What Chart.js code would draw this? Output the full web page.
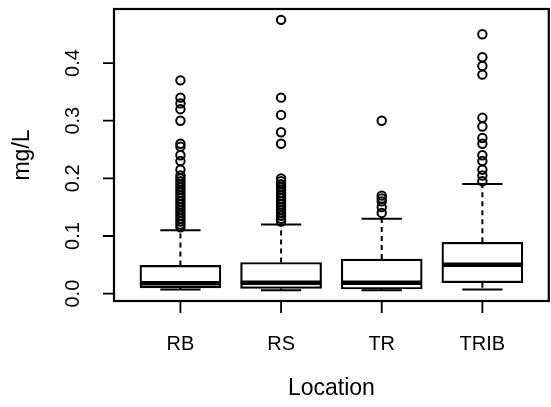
<!DOCTYPE html>
<html>
<head>
<meta charset="utf-8">
<script src="https://cdn.jsdelivr.net/npm/chart.js@4.4.0/dist/chart.umd.min.js"></script>
<style>
  html, body { margin: 0; padding: 0; background: #fff; overflow: hidden; }
  #wrap { width: 555px; height: 407px; }
</style>
</head>
<body>
<div id="wrap"><canvas id="boxChart" width="555" height="407"></canvas></div>
<script>
// Concentration by sampling location (five-number summaries + outliers)
var locations = ['RB', 'RS', 'TR', 'TRIB'];
var lowerWhisker = [0.007, 0.006, 0.006, 0.007];
var lowerQuartile = [0.010, 0.009, 0.008, 0.019];
var medians = [0.018, 0.019, 0.019, 0.050];
var upperQuartile = [0.049, 0.054, 0.060, 0.089];
var upperWhisker = [0.110, 0.120, 0.130, 0.190];

var outliersRB = [0.37, 0.34, 0.33, 0.32, 0.30, 0.26, 0.255, 0.24, 0.23, 0.215, 0.205, 0.20,
    0.195, 0.19, 0.185, 0.18, 0.175, 0.17, 0.165, 0.16, 0.155, 0.15, 0.145, 0.14, 0.135,
    0.13, 0.125, 0.12, 0.115];
var outliersRS = [0.475, 0.34, 0.31, 0.28, 0.26, 0.20, 0.195, 0.19, 0.185, 0.18, 0.175,
    0.17, 0.165, 0.16, 0.155, 0.15, 0.145, 0.14, 0.135, 0.13, 0.125];
var outliersTR = [0.30, 0.17, 0.165, 0.16, 0.15, 0.14];
var outliersTRIB = [0.45, 0.41, 0.395, 0.38, 0.305, 0.29, 0.27, 0.26, 0.24, 0.23, 0.215,
    0.205, 0.195];
var outlierGroups = [outliersRB, outliersRS, outliersTR, outliersTRIB];

var yTicks = [0.0, 0.1, 0.2, 0.3, 0.4];
var yTickLabels = ['0.0', '0.1', '0.2', '0.3', '0.4'];
var xTitle = 'Location';
var yTitle = 'mg/L';

var FONT = '20px "Liberation Sans", Arial, sans-serif';
var TITLE_FONT = '23px "Liberation Sans", Arial, sans-serif';

// boxes as floating bars [Q1, Q3]
var boxData = locations.map(function(name, i) {
    return { x: i + 1, y: [lowerQuartile[i], upperQuartile[i]] };
});

var outlierData = [];
outlierGroups.forEach(function(group, i) {
    group.forEach(function(v) { outlierData.push({ x: i + 1, y: v }); });
});

// whiskers, staples, medians, frame and axes drawn on top of the datasets
var boxplotExtras = {
    id: 'boxplotExtras',
    afterDatasetsDraw: function(chart) {
        var ctx = chart.ctx;
        var xs = chart.scales.x;
        var ys = chart.scales.y;
        var area = chart.chartArea;
        var unit = xs.getPixelForValue(2) - xs.getPixelForValue(1);
        var boxHalf = unit * 0.4;
        var stapleHalf = unit * 0.2;

        ctx.save();
        ctx.strokeStyle = '#000';
        ctx.lineCap = 'butt';

        locations.forEach(function(name, i) {
            var cx = xs.getPixelForValue(i + 1);

            // dashed whiskers
            ctx.lineWidth = 2;
            ctx.setLineDash([5, 4]);
            ctx.beginPath();
            ctx.moveTo(cx, ys.getPixelForValue(upperQuartile[i]));
            ctx.lineTo(cx, ys.getPixelForValue(upperWhisker[i]));
            ctx.moveTo(cx, ys.getPixelForValue(lowerQuartile[i]));
            ctx.lineTo(cx, ys.getPixelForValue(lowerWhisker[i]));
            ctx.stroke();
            ctx.setLineDash([]);

            // staples
            ctx.beginPath();
            var yu = ys.getPixelForValue(upperWhisker[i]);
            var yl = ys.getPixelForValue(lowerWhisker[i]);
            ctx.moveTo(cx - stapleHalf, yu);
            ctx.lineTo(cx + stapleHalf, yu);
            ctx.moveTo(cx - stapleHalf, yl);
            ctx.lineTo(cx + stapleHalf, yl);
            ctx.stroke();

            // median
            ctx.lineWidth = 4.5;
            ctx.beginPath();
            var ym = ys.getPixelForValue(medians[i]);
            ctx.moveTo(cx - boxHalf, ym);
            ctx.lineTo(cx + boxHalf, ym);
            ctx.stroke();
        });

        // plot frame
        ctx.lineWidth = 2.2;
        ctx.strokeRect(area.left, area.top, area.right - area.left, area.bottom - area.top);

        // y axis ticks and rotated labels
        ctx.lineWidth = 1.8;
        ctx.fillStyle = '#000';
        ctx.font = FONT;
        ctx.textAlign = 'center';
        ctx.textBaseline = 'middle';
        ctx.beginPath();
        ctx.moveTo(area.left, ys.getPixelForValue(yTicks[0]));
        ctx.lineTo(area.left, ys.getPixelForValue(yTicks[yTicks.length - 1]));
        yTicks.forEach(function(t) {
            var py = ys.getPixelForValue(t);
            ctx.moveTo(area.left, py);
            ctx.lineTo(area.left - 11, py);
        });
        ctx.stroke();
        yTicks.forEach(function(t, k) {
            var py = ys.getPixelForValue(t);
            ctx.save();
            ctx.translate(area.left - 41, py);
            ctx.rotate(-Math.PI / 2);
            ctx.fillText(yTickLabels[k], 0, 0);
            ctx.restore();
        });

        // x axis ticks and category labels
        ctx.beginPath();
        ctx.moveTo(xs.getPixelForValue(1), area.bottom);
        ctx.lineTo(xs.getPixelForValue(locations.length), area.bottom);
        locations.forEach(function(name, i) {
            var px = xs.getPixelForValue(i + 1);
            ctx.moveTo(px, area.bottom);
            ctx.lineTo(px, area.bottom + 12);
        });
        ctx.stroke();
        locations.forEach(function(name, i) {
            ctx.fillText(name, xs.getPixelForValue(i + 1), area.bottom + 43);
        });

        // axis titles
        ctx.font = TITLE_FONT;
        ctx.textBaseline = 'alphabetic';
        ctx.fillText(xTitle, (area.left + area.right) / 2, 395);
        ctx.save();
        ctx.translate(29, (area.top + area.bottom) / 2);
        ctx.rotate(-Math.PI / 2);
        ctx.fillText(yTitle, 0, 0);
        ctx.restore();

        ctx.restore();
    }
};

var ctx = document.getElementById('boxChart').getContext('2d');
var boxChart = new Chart(ctx, {
    type: 'bar',
    data: {
        datasets: [{
            label: 'Box',
            data: boxData,
            backgroundColor: '#ffffff',
            borderColor: '#000000',
            borderWidth: 2.2,
            borderSkipped: false,
            barThickness: 81,
            grouped: false,
            order: 2
        }, {
            type: 'scatter',
            label: 'Outliers',
            data: outlierData,
            pointStyle: 'circle',
            pointRadius: 4.2,
            pointBorderWidth: 2,
            pointBorderColor: '#000000',
            pointBackgroundColor: 'rgba(0,0,0,0)',
            showLine: false,
            order: 1
        }]
    },
    options: {
        responsive: false,
        animation: false,
        devicePixelRatio: 1,
        layout: {
            padding: { left: 114, right: 2, top: 9, bottom: 106 }
        },
        scales: {
            x: {
                type: 'linear',
                display: false,
                min: 0.34,
                max: 4.66,
                offset: false
            },
            y: {
                type: 'linear',
                display: false,
                min: -0.0128,
                max: 0.4938
            }
        },
        plugins: {
            legend: { display: false },
            tooltip: { enabled: false }
        }
    },
    plugins: [boxplotExtras]
});
</script>
</body>
</html>
